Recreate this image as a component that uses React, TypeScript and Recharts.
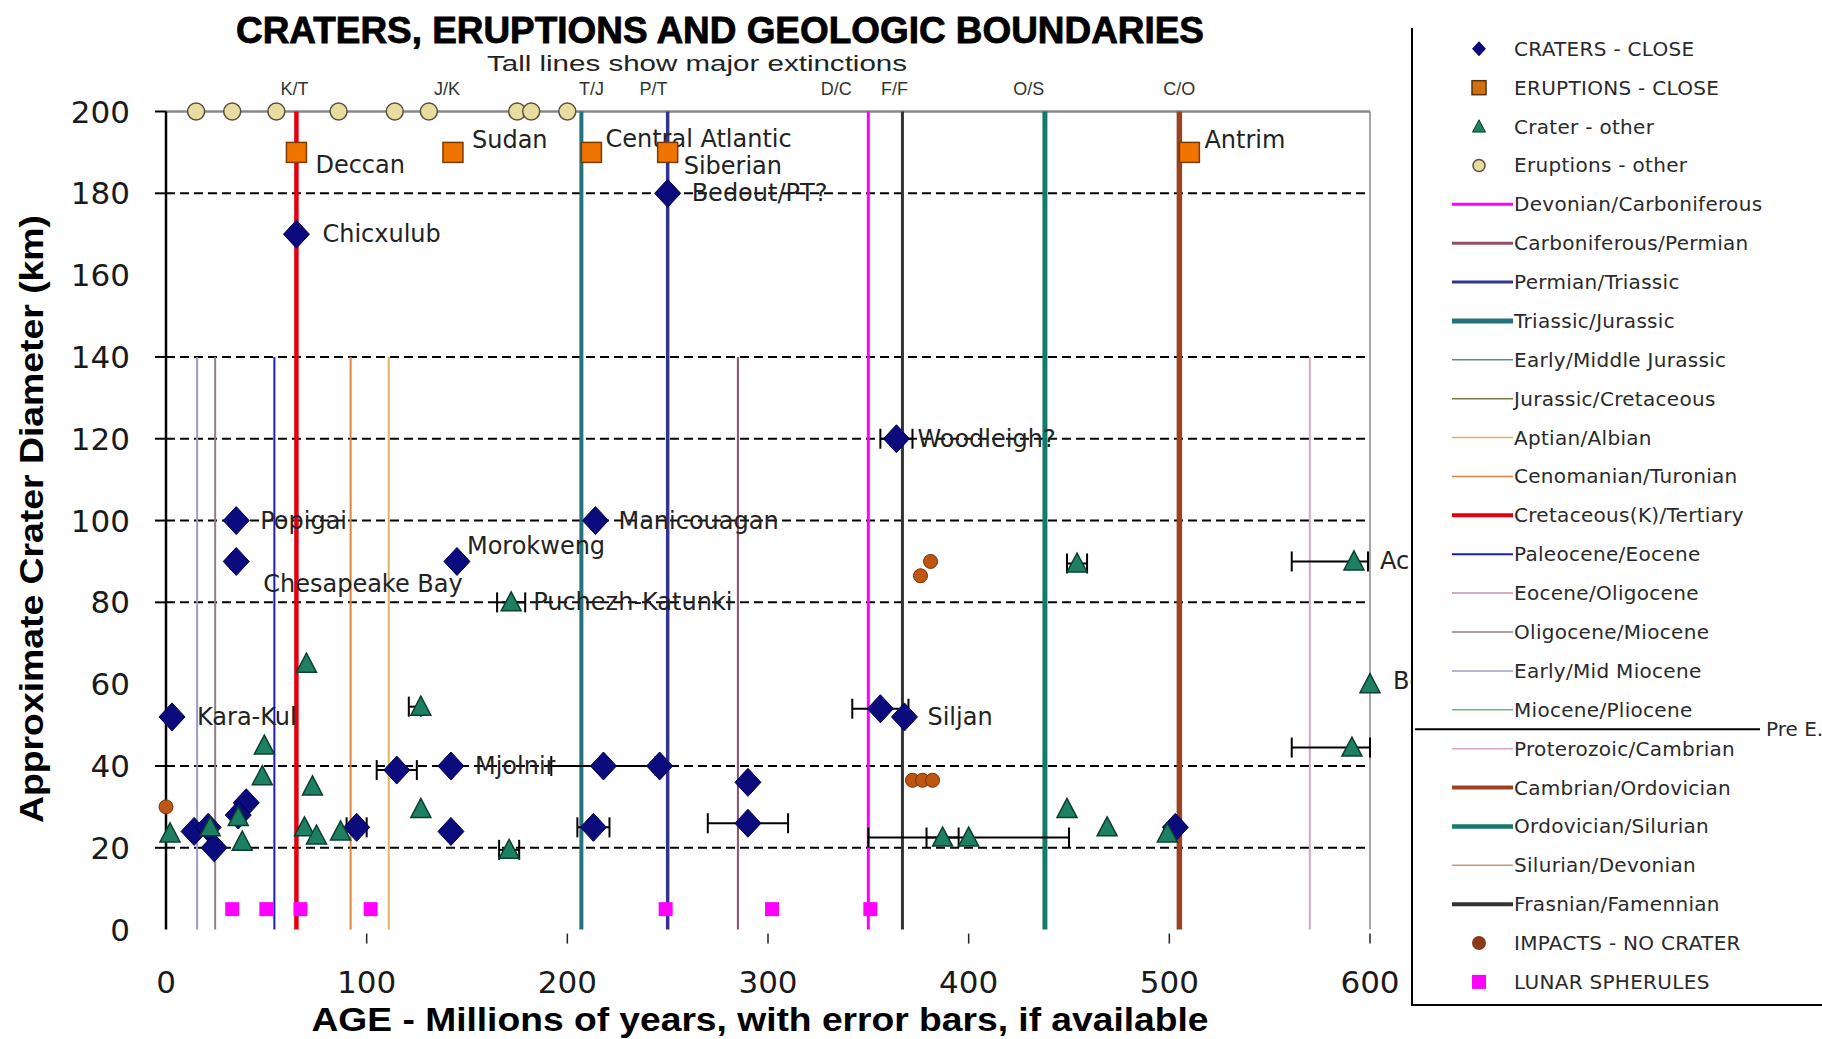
import React from 'react';
import { ScatterChart, Scatter, XAxis, YAxis, ReferenceLine, ErrorBar } from 'recharts';

// ---------------- DATA ----------------
const xTicks = [0, 100, 200, 300, 400, 500, 600];
const yTicks = [0, 20, 40, 60, 80, 100, 120, 140, 160, 180, 200];
const dashedLevels = [180, 140, 120, 100, 80, 40, 20];

const cratersClose = [
  { x: 65, y: 170, name: 'Chicxulub' },
  { x: 250, y: 180, name: 'Bedout/PT?' },
  { x: 35, y: 100, name: 'Popigai' },
  { x: 35, y: 90, name: 'Chesapeake Bay' },
  { x: 145, y: 90, name: 'Morokweng' },
  { x: 214, y: 100, name: 'Manicouagan' },
  { x: 364, y: 120, name: 'Woodleigh?', ex: 8 },
  { x: 3, y: 52, name: 'Kara-Kul' },
  { x: 356, y: 54, ex: 14 },
  { x: 368, y: 52, name: 'Siljan' },
  { x: 115, y: 39, ex: 10 },
  { x: 142, y: 40, name: 'Mjolnir' },
  { x: 218, y: 40, ex: 26 },
  { x: 246, y: 40 },
  { x: 290, y: 36 },
  { x: 290, y: 26, ex: 20 },
  { x: 213, y: 25, ex: 8 },
  { x: 142, y: 24 },
  { x: 95, y: 25, ex: 5 },
  { x: 14, y: 24 },
  { x: 21, y: 25 },
  { x: 24, y: 20 },
  { x: 40, y: 31 },
  { x: 36, y: 28 },
  { x: 503, y: 25 },
];

const eruptionsClose = [
  { x: 65, y: 190, name: 'Deccan' },
  { x: 143, y: 190, name: 'Sudan' },
  { x: 212, y: 190, name: 'Central Atlantic' },
  { x: 250, y: 190, name: 'Siberian' },
  { x: 510, y: 190, name: 'Antrim' },
];

const cratersOther = [
  { x: 172, y: 80, name: 'Puchezh-Katunki', ex: 7 },
  { x: 70, y: 65 },
  { x: 127, y: 54.5, ex: [6, 0] },
  { x: 49, y: 45 },
  { x: 48, y: 37.5 },
  { x: 73, y: 35 },
  { x: 127, y: 29.5 },
  { x: 2, y: 23.5 },
  { x: 22, y: 25 },
  { x: 36, y: 27.5 },
  { x: 38, y: 21.5 },
  { x: 69, y: 25 },
  { x: 75, y: 23 },
  { x: 87, y: 24 },
  { x: 171, y: 19.5, ex: 5 },
  { x: 387, y: 22.5, ex: 8 },
  { x: 400, y: 22.5, ex: 50 },
  { x: 449, y: 29.5 },
  { x: 469, y: 25 },
  { x: 499, y: 23.5 },
  { x: 454, y: 89.5, ex: 5 },
  { x: 592, y: 90, name: 'Acraman', ex: [31, 7] },
  { x: 600, y: 60, name: 'Beaverhead' },
  { x: 591, y: 44.5, ex: [30, 9] },
];

const eruptionsOtherAges = [15, 33, 55, 86, 114, 131, 175, 182, 200];
const eruptionsOtherLevel = 200;

const impactsNoCrater = [
  { x: 0, y: 30 },
  { x: 376, y: 86.5 },
  { x: 381, y: 90 },
  { x: 372, y: 36.5 },
  { x: 377, y: 36.5 },
  { x: 382, y: 36.5 },
];

const lunarSpherulesAges = [33, 50, 67, 102, 249, 302, 351];
const lunarLevel = 5;

const extinctionBoundaries = [
  { name: 'Cretaceous(K)/Tertiary', age: 65 },
  { name: 'Triassic/Jurassic', age: 207 },
  { name: 'Permian/Triassic', age: 250 },
  { name: 'Devonian/Carboniferous', age: 350 },
  { name: 'Frasnian/Famennian', age: 367 },
  { name: 'Ordovician/Silurian', age: 438 },
  { name: 'Cambrian/Ordovician', age: 505 },
];
const otherBoundaries = [
  { name: 'Early/Mid Miocene', age: 15.5 },
  { name: 'Oligocene/Miocene', age: 24.5 },
  { name: 'Paleocene/Eocene', age: 54 },
  { name: 'Cenomanian/Turonian', age: 92 },
  { name: 'Aptian/Albian', age: 111 },
  { name: 'Carboniferous/Permian', age: 285 },
  { name: 'Proterozoic/Cambrian', age: 570 },
];
const otherBoundaryTop = 140;

const boundaryTags = [
  { tag: 'K/T', age: 64 },
  { tag: 'J/K', age: 140 },
  { tag: 'T/J', age: 212 },
  { tag: 'P/T', age: 243 },
  { tag: 'D/C', age: 334 },
  { tag: 'F/F', age: 363 },
  { tag: 'O/S', age: 430 },
  { tag: 'C/O', age: 505 },
];

const legendNames = [
  'CRATERS - CLOSE',
  'ERUPTIONS - CLOSE',
  'Crater - other',
  'Eruptions - other',
  'Devonian/Carboniferous',
  'Carboniferous/Permian',
  'Permian/Triassic',
  'Triassic/Jurassic',
  'Early/Middle Jurassic',
  'Jurassic/Cretaceous',
  'Aptian/Albian',
  'Cenomanian/Turonian',
  'Cretaceous(K)/Tertiary',
  'Paleocene/Eocene',
  'Eocene/Oligocene',
  'Oligocene/Miocene',
  'Early/Mid Miocene',
  'Miocene/Pliocene',
  'Proterozoic/Cambrian',
  'Cambrian/Ordovician',
  'Ordovician/Silurian',
  'Silurian/Devonian',
  'Frasnian/Famennian',
  'IMPACTS - NO CRATER',
  'LUNAR SPHERULES',
];
const legendSeparatorAfter = 'Miocene/Pliocene';
const legendSeparatorText = 'Pre E.';

const titleText = 'CRATERS, ERUPTIONS  AND GEOLOGIC BOUNDARIES';
const subtitleText = 'Tall lines show major extinctions';
const xAxisTitle = 'AGE - Millions of years, with error bars, if available';
const yAxisTitle = 'Approximate Crater Diameter (km)';

// ---------------- STYLES ----------------
const boundaryStyles: Record<string, { color: string; width: number; lw: number }> = {
  'Devonian/Carboniferous': { color: '#FF00FF', width: 3, lw: 3 },
  'Carboniferous/Permian': { color: '#8E5068', width: 2, lw: 3 },
  'Permian/Triassic': { color: '#34348E', width: 3.5, lw: 3 },
  'Triassic/Jurassic': { color: '#24737A', width: 4, lw: 5 },
  'Early/Middle Jurassic': { color: '#5A8C8C', width: 1.5, lw: 1.5 },
  'Jurassic/Cretaceous': { color: '#7D7D4A', width: 1.5, lw: 1.5 },
  'Aptian/Albian': { color: '#DDB463', width: 2, lw: 1.5 },
  'Cenomanian/Turonian': { color: '#D9843F', width: 2, lw: 1.5 },
  'Cretaceous(K)/Tertiary': { color: '#E3000F', width: 4.5, lw: 4 },
  'Paleocene/Eocene': { color: '#1C1CC0', width: 2, lw: 2 },
  'Eocene/Oligocene': { color: '#C58FAF', width: 1.5, lw: 1.5 },
  'Oligocene/Miocene': { color: '#8F8080', width: 2, lw: 1.5 },
  'Early/Mid Miocene': { color: '#9C9CC8', width: 2, lw: 1.5 },
  'Miocene/Pliocene': { color: '#6DBB6D', width: 1.5, lw: 1.5 },
  'Proterozoic/Cambrian': { color: '#D9A6BF', width: 2, lw: 1.5 },
  'Cambrian/Ordovician': { color: '#9A4320', width: 5.5, lw: 4 },
  'Ordovician/Silurian': { color: '#167A68', width: 5, lw: 4.5 },
  'Silurian/Devonian': { color: '#C8987A', width: 1.5, lw: 1.5 },
  'Frasnian/Famennian': { color: '#333333', width: 3, lw: 4 },
};

const NAVY = '#0B0B7E';
const ORANGE = '#F07400';
const TEAL = '#1E8062';
const BEIGE = '#E8DCA0';
const BROWN = '#BE5612';
const MAGENTA = '#FF00FF';
const LABEL_FONT = 'DejaVu Sans, Verdana, sans-serif';

const labelOffsets: Record<string, [number, number]> = {
  Chicxulub: [26, 0],
  'Bedout/PT?': [24, 0],
  Popigai: [24, 0],
  'Chesapeake Bay': [27, 23],
  Morokweng: [10, -15],
  Manicouagan: [23, 0],
  'Woodleigh?': [21, 0],
  'Kara-Kul': [25, 0],
  Siljan: [23, 0],
  Mjolnir: [24, 0],
  Deccan: [19, 13],
  Sudan: [19, -12],
  'Central Atlantic': [14, -13],
  Siberian: [16, 14],
  Antrim: [15, -12],
  'Puchezh-Katunki': [22, 0],
  Acraman: [26, 0],
  Beaverhead: [23, -3],
};

const renderLabel = (cx: number, cy: number, name?: string) => {
  if (!name) return null;
  const off = labelOffsets[name] || [24, 0];
  return (
    <text x={cx + off[0]} y={cy + off[1]} dominantBaseline="central" fontFamily={LABEL_FONT} fontSize={24} fill="#222">
      {name}
    </text>
  );
};

const diamondPath = (cx: number, cy: number, rx: number, ry: number) =>
  `${cx},${cy - ry} ${cx + rx},${cy} ${cx},${cy + ry} ${cx - rx},${cy}`;
const trianglePath = (cx: number, cy: number, r: number) =>
  `${cx},${cy - r * 1.05} ${cx + r},${cy + r * 0.85} ${cx - r},${cy + r * 0.85}`;

const DiamondShape = (p: any) => (
  <g>
    <polygon points={diamondPath(p.cx, p.cy, 13, 14)} fill={NAVY} stroke="#00004A" strokeWidth={1} />
    {renderLabel(p.cx, p.cy, p.payload?.name)}
  </g>
);
const SquareShape = (p: any) => (
  <g>
    <rect x={p.cx - 10} y={p.cy - 10} width={20} height={20} fill={ORANGE} stroke="#7A3A00" strokeWidth={1.5} />
    {renderLabel(p.cx, p.cy, p.payload?.name)}
  </g>
);
const TriangleShape = (p: any) => (
  <g>
    <polygon points={trianglePath(p.cx, p.cy, 10)} fill={TEAL} stroke="#0B3F2F" strokeWidth={1.5} />
    {renderLabel(p.cx, p.cy, p.payload?.name)}
  </g>
);
const CircleShape = (p: any) => (
  <circle cx={p.cx} cy={p.cy} r={8.5} fill={BEIGE} stroke="#5A5040" strokeWidth={1.5} />
);
const DotShape = (p: any) => <circle cx={p.cx} cy={p.cy} r={7} fill={BROWN} stroke="#7A3000" strokeWidth={1} />;
const LunarShape = (p: any) => <rect x={p.cx - 7} y={p.cy - 7} width={14} height={14} fill={MAGENTA} />;
const TagShape = (p: any) => (
  <text x={p.cx} y={p.cy - 17} textAnchor="middle" fontFamily="Liberation Sans, Arial, sans-serif" fontSize={18} fill="#333">
    {p.payload?.tag}
  </text>
);

const YTick = (props: any) => {
  const { x, y, payload } = props;
  const v = payload.value;
  const showTick = dashedLevels.includes(v) || v === 200;
  return (
    <g>
      {showTick ? <line x1={x + 25} x2={x + 36} y1={y} y2={y} stroke="#000" strokeWidth={2} /> : null}
      <text x={x} y={y} textAnchor="end" dominantBaseline="central" fontFamily={LABEL_FONT} fontSize={31} fill="#1a1a1a">
        {v}
      </text>
    </g>
  );
};

const XTick = (props: any) => {
  const { x, y, payload } = props;
  const v = payload.value;
  return (
    <g>
      {v !== 0 ? <line x1={x} x2={x} y1={y + 4} y2={y + 14} stroke="#222" strokeWidth={1.5} /> : null}
      <text x={x} y={y + 52} textAnchor="middle" dominantBaseline="central" fontFamily={LABEL_FONT} fontSize={31} fill="#1a1a1a">
        {v}
      </text>
    </g>
  );
};

const eruptionsOther = eruptionsOtherAges.map((a) => ({ x: a, y: eruptionsOtherLevel }));
const lunarSpherules = lunarSpherulesAges.map((a) => ({ x: a, y: lunarLevel }));
const tagPoints = boundaryTags.map((t) => ({ x: t.age, y: 200, tag: t.tag }));

const markerLegend: Record<string, string> = {
  'CRATERS - CLOSE': 'diamond',
  'ERUPTIONS - CLOSE': 'square',
  'Crater - other': 'triangle',
  'Eruptions - other': 'circle',
  'IMPACTS - NO CRATER': 'dot',
  'LUNAR SPHERULES': 'lunar',
};

const LegendIcon = ({ name, y }: { name: string; y: number }) => {
  const cx = 1479;
  const kind = markerLegend[name];
  if (kind === 'diamond') return <polygon points={diamondPath(cx, y, 7, 7.5)} fill={NAVY} />;
  if (kind === 'square')
    return <rect x={cx - 7} y={y - 7} width={14} height={14} fill="#D07010" stroke="#5A3000" strokeWidth={1.5} />;
  if (kind === 'triangle') return <polygon points={trianglePath(cx, y, 6.5)} fill={TEAL} stroke="#0B3F2F" strokeWidth={1} />;
  if (kind === 'circle') return <circle cx={cx} cy={y} r={6} fill={BEIGE} stroke="#5A5040" strokeWidth={1.5} />;
  if (kind === 'dot') return <circle cx={cx} cy={y} r={7} fill="#8A3A18" />;
  if (kind === 'lunar') return <rect x={cx - 7} y={y - 7} width={14} height={14} fill={MAGENTA} />;
  const st = boundaryStyles[name];
  return <line x1={1452} x2={1513} y1={y} y2={y} stroke={st.color} strokeWidth={st.lw} />;
};

export default function App() {
  const legendTop = 48.8;
  const legendStep = 38.88;
  const sepIndex = legendNames.indexOf(legendSeparatorAfter);
  const sepY = legendTop + (sepIndex + 0.5) * legendStep;
  return (
    <div style={{ position: 'fixed', left: 0, top: 0, width: 1822, height: 1039, background: '#fff', overflow: 'hidden' }}>
      <ScatterChart width={1822} height={1039} margin={{ top: 111.5, right: 452, bottom: 49.4, left: 0 }}>
        <XAxis
          type="number"
          dataKey="x"
          domain={[0, 600]}
          ticks={xTicks}
          interval={0}
          axisLine={false}
          tickLine={false}
          tickSize={0}
          tickMargin={0}
          height={60}
          tick={<XTick />}
        />
        <YAxis
          type="number"
          dataKey="y"
          domain={[0, 200]}
          ticks={yTicks}
          interval={0}
          width={166}
          axisLine={{ stroke: '#000', strokeWidth: 2.5 }}
          tickLine={false}
          tickSize={0}
          tickMargin={36}
          tick={<YTick />}
        />
        {dashedLevels.map((v) => (
          <ReferenceLine key={'d' + v} y={v} stroke="#000" strokeWidth={2} strokeDasharray="9 5" />
        ))}
        <ReferenceLine y={200} stroke="#888" strokeWidth={2.5} />
        <ReferenceLine x={600} stroke="#888" strokeWidth={1.5} />
        {otherBoundaries.map((b) => (
          <ReferenceLine
            key={b.name}
            segment={[{ x: b.age, y: 0 }, { x: b.age, y: otherBoundaryTop }]}
            stroke={boundaryStyles[b.name].color}
            strokeWidth={boundaryStyles[b.name].width}
          />
        ))}
        {extinctionBoundaries.map((b) => (
          <ReferenceLine
            key={b.name}
            x={b.age}
            stroke={boundaryStyles[b.name].color}
            strokeWidth={boundaryStyles[b.name].width}
          />
        ))}
        <Scatter name="tags" data={tagPoints} shape={TagShape} isAnimationActive={false} />
        <Scatter name="CRATERS - CLOSE" data={cratersClose} shape={DiamondShape} isAnimationActive={false}>
          <ErrorBar dataKey="ex" direction="x" width={10} stroke="#000" strokeWidth={2} />
        </Scatter>
        <Scatter name="ERUPTIONS - CLOSE" data={eruptionsClose} shape={SquareShape} isAnimationActive={false} />
        <Scatter name="Crater - other" data={cratersOther} shape={TriangleShape} isAnimationActive={false}>
          <ErrorBar dataKey="ex" direction="x" width={10} stroke="#000" strokeWidth={2} />
        </Scatter>
        <Scatter name="Eruptions - other" data={eruptionsOther} shape={CircleShape} isAnimationActive={false} />
        <Scatter name="IMPACTS - NO CRATER" data={impactsNoCrater} shape={DotShape} isAnimationActive={false} />
        <Scatter name="LUNAR SPHERULES" data={lunarSpherules} shape={LunarShape} isAnimationActive={false} />
      </ScatterChart>
      <svg width={1822} height={1039} style={{ position: 'absolute', left: 0, top: 0, pointerEvents: 'none' }}>
        <text x={720} y={43} textAnchor="middle" fontFamily="Liberation Sans, Arial, sans-serif" fontWeight={900} fontSize={36} fill="#000" stroke="#000" strokeWidth={0.8} textLength={968} lengthAdjust="spacingAndGlyphs">
          {titleText}
        </text>
        <text x={697} y={71} textAnchor="middle" fontFamily="Liberation Sans, Arial, sans-serif" fontSize={22} fill="#222" textLength={420} lengthAdjust="spacingAndGlyphs">
          {subtitleText}
        </text>
        <text x={760} y={1031} textAnchor="middle" fontFamily="Liberation Sans, Arial, sans-serif" fontWeight={700} fontSize={33} fill="#000" textLength={897} lengthAdjust="spacingAndGlyphs">
          {xAxisTitle}
        </text>
        <g transform="translate(43,519) rotate(-90)">
          <text x={0} y={0} textAnchor="middle" fontFamily="Liberation Sans, Arial, sans-serif" fontWeight={700} fontSize={33} fill="#000" textLength={608} lengthAdjust="spacingAndGlyphs">
            {yAxisTitle}
          </text>
        </g>
        <rect x={1413} y={0} width={409} height={1004} fill="#fff" />
        <line x1={1412} x2={1412} y1={28} y2={1006} stroke="#000" strokeWidth={2} />
        <line x1={1411} x2={1822} y1={1005} y2={1005} stroke="#000" strokeWidth={2} />
        {legendNames.map((n, i) => {
          const y = legendTop + i * legendStep;
          return (
            <g key={n}>
              <LegendIcon name={n} y={y} />
              <text x={1514} y={y} dominantBaseline="central" fontFamily={LABEL_FONT} fontSize={20} fill="#2a2a2a" letterSpacing={0.3}>
                {n}
              </text>
            </g>
          );
        })}
        <line x1={1415} x2={1760} y1={sepY} y2={sepY} stroke="#000" strokeWidth={2} />
        <text x={1766} y={sepY} dominantBaseline="central" fontFamily={LABEL_FONT} fontSize={20} fill="#2a2a2a">
          {legendSeparatorText}
        </text>
      </svg>
    </div>
  );
}
